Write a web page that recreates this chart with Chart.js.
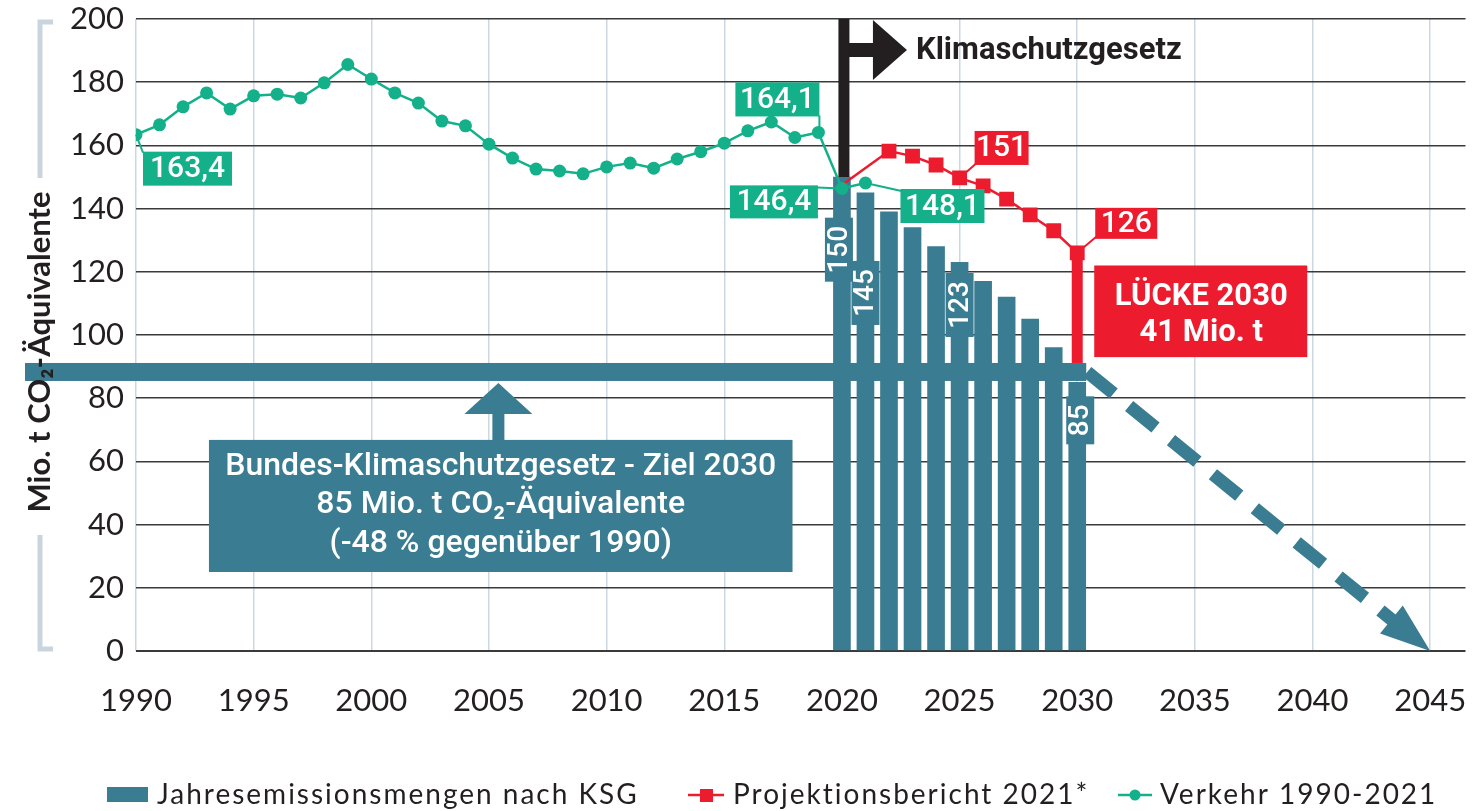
<!DOCTYPE html>
<html>
<head>
<meta charset="utf-8">
<script src="https://cdn.jsdelivr.net/npm/chart.js@4.4.1/dist/chart.umd.min.js"></script>
<style>
body{margin:0;background:#fff}
#wrap{width:1476px;height:811px;position:relative}
</style>
</head>
<body>
<div id="wrap"><canvas id="myChart"></canvas></div>
<script>
// Verkehr 1990-2021 (Mio. t CO2-Äq.)
const verkehrYears = [1990,1991,1992,1993,1994,1995,1996,1997,1998,1999,2000,2001,2002,2003,2004,2005,
                      2006,2007,2008,2009,2010,2011,2012,2013,2014,2015,2016,2017,2018,2019,2020,2021];
const verkehrValues = [163.4,166.5,172.2,176.6,171.5,175.7,176.2,175.0,179.8,185.6,181.0,176.6,173.4,167.7,166.2,160.4,
                       156.0,152.5,151.9,151.0,153.2,154.4,152.8,155.7,158.0,160.7,164.6,167.4,162.5,164.1,146.4,148.1];
// Jahresemissionsmengen nach KSG
const ksgYears = [2020,2021,2022,2023,2024,2025,2026,2027,2028,2029,2030];
const ksgValues = [150,145,139,134,128,123,117,112,105,96,85];
// Projektionsbericht 2021
const projYears = [2020,2021,2022,2023,2024,2025,2026,2027,2028,2029,2030];
const projValues = [147.5,null,158.2,156.6,153.8,149.7,147.2,143,138,133,126];

const zielBand = 88.3;     // Linie "Ziel 2030"
const projLabels = ['151','126'];
const verkehrLabels = ['163,4','164,1','146,4','148,1'];
const ksgLabelYears = [2020,2021,2025,2030];

const C = {teal:'#3a7c91', green:'#13b08a', red:'#ec1c2e', black:'#231f20', grey:'#c9d5de'};
const ANN = '500 30px Roboto, "Noto Sans", sans-serif';

function pts(xs, ys){
    let out = [];
    for (let i=0;i<xs.length;i++){ if (ys[i]!=null) out.push({x:xs[i], y:ys[i]}); }
    return out;
}

function box(ctx, x, y, w, h, col, txt, font){
    ctx.fillStyle = col;
    ctx.fillRect(x, y, w, h);
    ctx.fillStyle = '#fff';
    ctx.font = font || ANN;
    ctx.textAlign = 'center';
    ctx.textBaseline = 'middle';
    ctx.fillText(txt, x+w/2, y+h/2+1);
}
function leader(ctx, x1, y1, x2, y2, col){
    ctx.strokeStyle = col; ctx.lineWidth = 2;
    ctx.beginPath(); ctx.moveTo(x1,y1); ctx.lineTo(x2,y2); ctx.stroke();
}

const annot = {
    id:'annot',
    afterDatasetsDraw(chart){
        const ctx = chart.ctx, xs = chart.scales.x, ys = chart.scales.y;
        const X = v => xs.getPixelForValue(v), Y = v => ys.getPixelForValue(v);
        ctx.save();

        // band at target level
        const bandY = Y(zielBand);
        ctx.fillStyle = C.teal;
        ctx.fillRect(25, bandY-9, X(2030)+9-25, 18);

        // red gap line
        ctx.fillStyle = C.red;
        ctx.fillRect(X(2030)-5.5, Y(projValues[10]), 11, bandY-9-Y(projValues[10]));

        // dashed arrow to 2045
        const sx = X(2030)+10, sy = bandY, tx = X(2045), ty = Y(0);
        const L = Math.hypot(tx-sx, ty-sy), ux = (tx-sx)/L, uy = (ty-sy)/L;
        ctx.strokeStyle = C.teal; ctx.lineWidth = 13; ctx.setLineDash([34,20]);
        ctx.beginPath(); ctx.moveTo(sx,sy); ctx.lineTo(tx-ux*46, ty-uy*46); ctx.stroke();
        ctx.setLineDash([]);
        const bx = tx-ux*50, by = ty-uy*50;
        ctx.fillStyle = C.teal;
        ctx.beginPath(); ctx.moveTo(tx,ty);
        ctx.lineTo(bx-uy*18, by+ux*18); ctx.lineTo(bx+uy*18, by-ux*18); ctx.closePath(); ctx.fill();

        // up arrow + target box
        const ax = X(2005.4);
        ctx.beginPath(); ctx.moveTo(ax, bandY+11); ctx.lineTo(ax-34, bandY+42); ctx.lineTo(ax+34, bandY+42); ctx.closePath(); ctx.fill();
        ctx.fillRect(ax-6, bandY+41, 12, Y(66.8)-bandY-40);
        const bl = X(1993.1), bt = Y(66.8), bw = X(2017.9)-bl, bh = Y(25)-bt;
        ctx.fillRect(bl, bt, bw, bh);
        ctx.fillStyle = '#fff'; ctx.font = '500 32px Roboto, sans-serif'; ctx.textAlign = 'center'; ctx.textBaseline = 'middle';
        ctx.fillText('Bundes-Klimaschutzgesetz - Ziel 2030', bl+bw/2, bt+27);
        ctx.fillText('85 Mio. t CO\u2082-Äquivalente', bl+bw/2, bt+65);
        ctx.fillText('(-48 % gegenüber 1990)', bl+bw/2, bt+104);

        // LÜCKE box
        const lx = X(2030)+17, lt = Y(122);
        ctx.fillStyle = C.red;
        ctx.fillRect(lx, lt, 213, Y(93)-lt);
        ctx.fillStyle = '#fff'; ctx.font = '700 31px Roboto, sans-serif';
        ctx.fillText('LÜCKE 2030', lx+107, lt+32);
        ctx.fillText('41 Mio. t', lx+107, lt+68);

        // black flag Klimaschutzgesetz
        const fx = X(2020)+2, ft = Y(200);
        ctx.fillStyle = C.black;
        ctx.fillRect(fx-5.5, ft, 11, Y(150)-ft);
        ctx.fillRect(fx+5, ft+24, 25, 14);
        ctx.beginPath(); ctx.moveTo(fx+29, ft+1); ctx.lineTo(fx+29, ft+61); ctx.lineTo(fx+63, ft+31); ctx.closePath(); ctx.fill();
        ctx.font = '700 31px Roboto, sans-serif'; ctx.textAlign = 'left';
        ctx.fillText('Klimaschutzgesetz', fx+72, ft+32);

        // bar value labels (rotated)
        const posV = {2020:127, 2021:113.3, 2025:109.5, 2030:73};
        const dx = {2020:-3, 2021:0, 2025:0, 2030:3};
        ksgLabelYears.forEach(yr => {
            const v = ksgValues[ksgYears.indexOf(yr)];
            const cx = X(yr)+dx[yr], cy = Y(posV[yr]);
            const len = String(v).length*16+16;
            ctx.fillStyle = C.teal;
            ctx.fillRect(cx-14, cy-len/2, 28, len);
            ctx.save(); ctx.translate(cx+1, cy); ctx.rotate(-Math.PI/2);
            ctx.fillStyle = '#fff'; ctx.font = '500 28px Roboto, sans-serif';
            ctx.textAlign = 'center'; ctx.textBaseline = 'middle';
            ctx.fillText(String(v), 0, 0);
            ctx.restore();
        });

        // Verkehr labels
        let p;
        p = [X(1990), Y(verkehrValues[0])];
        leader(ctx, p[0], p[1], p[0]+7, p[1]+18, C.green);
        box(ctx, p[0]+7, p[1]+17, 89, 34, C.green, verkehrLabels[0]);
        p = [X(2019), Y(verkehrValues[29])];
        leader(ctx, p[0]+1, p[1], p[0]+1, p[1]-17, C.green);
        box(ctx, p[0]-83, p[1]-50, 84, 34, C.green, verkehrLabels[1]);
        p = [X(2020), Y(verkehrValues[30])];
        leader(ctx, p[0], p[1], p[0]-25, p[1]-1, C.green);
        box(ctx, p[0]-112, p[1]-3, 88, 33, C.green, verkehrLabels[2]);
        p = [X(2021), Y(verkehrValues[31])];
        leader(ctx, p[0], p[1], p[0]+36, p[1]+8, C.green);
        box(ctx, p[0]+35, p[1]+6, 84, 34, C.green, verkehrLabels[3]);

        // Projektion labels
        p = [X(2025), Y(projValues[5])];
        leader(ctx, p[0], p[1], p[0]+16, p[1]-14, C.red);
        box(ctx, p[0]+15, p[1]-47, 54, 34, C.red, projLabels[0]);
        p = [X(2030), Y(projValues[10])];
        leader(ctx, p[0], p[1], p[0]+19, p[1]-16, C.red);
        box(ctx, p[0]+18, p[1]-45, 62, 31, C.red, projLabels[1]);

        ctx.restore();
    },
    afterDraw(chart){
        const ctx = chart.ctx;
        ctx.save();
        // y axis title with brackets
        ctx.strokeStyle = C.grey; ctx.lineWidth = 5; ctx.lineCap = 'butt';
        ctx.beginPath(); ctx.moveTo(53,22); ctx.lineTo(40,22); ctx.lineTo(40,178); ctx.stroke();
        ctx.beginPath(); ctx.moveTo(40,535); ctx.lineTo(40,649); ctx.lineTo(53,649); ctx.stroke();
        ctx.save(); ctx.translate(40, 352); ctx.rotate(-Math.PI/2);
        ctx.fillStyle = C.black; ctx.font = '700 31px Lato, sans-serif';
        ctx.textAlign = 'center'; ctx.textBaseline = 'middle';
        ctx.fillText('Mio. t CO\u2082-Äquivalente', 0, 0);
        ctx.restore();

        // legend
        const ly = 795;
        ctx.font = '28px Lato, sans-serif'; ctx.textBaseline = 'middle'; ctx.textAlign = 'left';
        ctx.letterSpacing = '2px';
        ctx.fillStyle = chart.data.datasets[0].backgroundColor;
        ctx.fillRect(107, ly-8, 41, 15);
        ctx.fillStyle = C.black;
        ctx.fillText(chart.data.datasets[0].label, 157, ly);
        ctx.strokeStyle = C.red; ctx.lineWidth = 2.5;
        ctx.beginPath(); ctx.moveTo(688, ly); ctx.lineTo(724, ly); ctx.stroke();
        ctx.fillStyle = C.red; ctx.fillRect(700, ly-6, 13, 13);
        ctx.fillStyle = C.black;
        ctx.fillText(chart.data.datasets[1].label, 733, ly);
        ctx.strokeStyle = C.green;
        ctx.beginPath(); ctx.moveTo(1118, ly); ctx.lineTo(1152, ly); ctx.stroke();
        ctx.fillStyle = C.green; ctx.beginPath(); ctx.arc(1135, ly, 5.5, 0, Math.PI*2); ctx.fill();
        ctx.fillStyle = C.black;
        ctx.fillText(chart.data.datasets[2].label, 1160, ly);
        ctx.restore();
    }
};

let mychart = document.getElementById('myChart').getContext('2d');
let chart = new Chart(mychart, {
    type: 'bar',
    data: {
        datasets: [{
            type: 'bar',
            label: 'Jahresemissionsmengen nach KSG',
            data: pts(ksgYears, ksgValues),
            backgroundColor: C.teal,
            barThickness: 17,
            order: 3
        }, {
            type: 'line',
            label: 'Projektionsbericht 2021*',
            data: pts(projYears, projValues),
            borderColor: C.red,
            backgroundColor: C.red,
            borderWidth: 2.5,
            pointStyle: 'rect',
            pointRadius: ctx => ctx.dataIndex === 0 ? 0 : 10.5,
            pointBorderWidth: 0,
            tension: 0,
            order: 2
        }, {
            type: 'line',
            label: 'Verkehr 1990-2021',
            data: pts(verkehrYears, verkehrValues),
            borderColor: C.green,
            backgroundColor: C.green,
            borderWidth: 2.5,
            pointRadius: 6.5,
            pointBorderWidth: 0,
            tension: 0,
            order: 1
        }]
    },
    options: {
        responsive: true,
        maintainAspectRatio: false,
        animation: false,
        devicePixelRatio: 1,
        layout: {padding: {top: 19, right: 8, left: 0, bottom: 0}},
        plugins: {legend: {display: false}, tooltip: {enabled: false}},
        scales: {
            x: {
                type: 'linear',
                min: 1990, max: 2046.5,
                offset: false,
                grid: {color: '#cbd8e2', lineWidth: 1.5, drawTicks: false, offset: false},
                border: {display: false},
                ticks: {stepSize: 5, includeBounds: false, padding: 31, color: C.black,
                        font: {family: 'Lato', size: 31}, callback: v => String(v), maxRotation: 0},
                afterFit: s => { s.height = 160; s.paddingLeft = 0; s.paddingRight = 0; }
            },
            y: {
                min: 0, max: 200,
                grid: {color: '#3a3a3a', lineWidth: c => c.tick && c.tick.value === 0 ? 2 : 1.5, drawTicks: false},
                border: {display: false},
                ticks: {stepSize: 20, padding: 12, color: C.black, font: {family: 'Lato', size: 31}},
                afterFit: s => { s.width = 136; s.paddingTop = 0; s.paddingBottom = 0; }
            }
        }
    },
    plugins: [annot]
});
</script>
</body>
</html>
